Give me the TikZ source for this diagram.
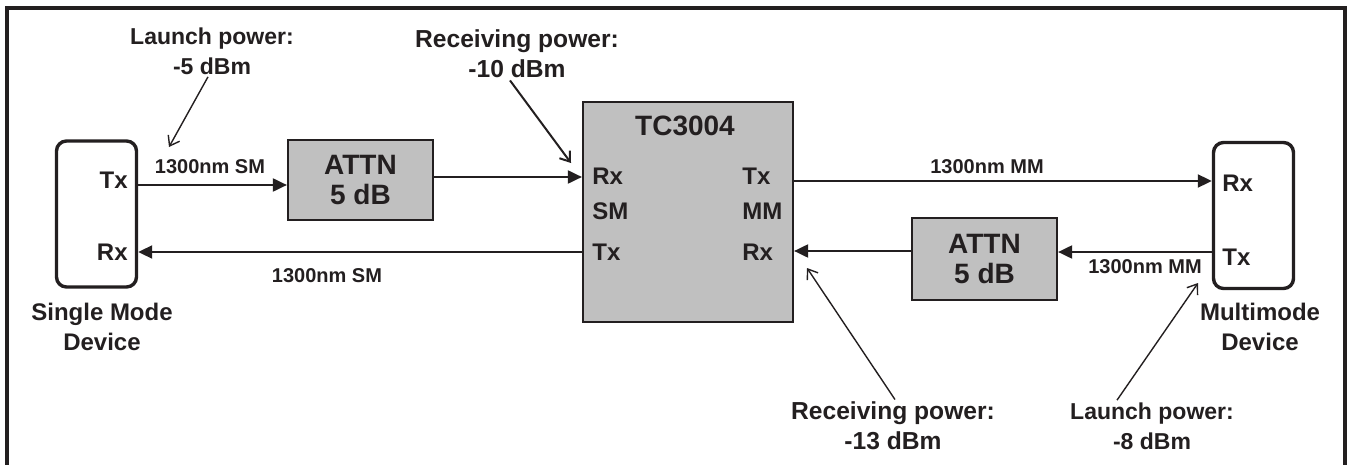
\documentclass[tikz,border=0pt]{standalone}
\usepackage{fontspec}
\setmainfont{Liberation Sans}
\usetikzlibrary{arrows.meta,positioning,calc}
\definecolor{boxgray}{RGB}{192,192,192}
\definecolor{inkblack}{RGB}{35,31,32}

\begin{document}
\begin{tikzpicture}[x=0.5pt, y=-0.5pt, font=\bfseries, draw=inkblack, text=inkblack,
  dev/.style={draw=inkblack, line width=1.7pt, rounded corners=5pt, minimum width=40pt,
              minimum height=73pt},
  attn/.style={draw=inkblack, fill=boxgray, line width=1.1pt, minimum width=72.5pt,
               minimum height=40pt, align=center, font=\bfseries\fontsize{14}{15}\selectfont},
  port/.style={inner sep=0.5pt, font=\bfseries\fontsize{12}{14}\selectfont},
  fib/.style={inner sep=0pt, font=\bfseries\fontsize{10}{12}\selectfont},
  note/.style={align=center, inner sep=1pt, font=\bfseries\fontsize{11.5}{15}\selectfont},
  conn/.style={draw=inkblack, line width=1pt, -{Triangle[length=7pt,width=6.5pt]}},
  ptr/.style={draw=inkblack, line width=0.7pt, -{Straight Barb[length=4.5pt,width=6.5pt]}}]
\useasboundingbox (0,0) rectangle (1348,465);
\draw[line width=2pt, inkblack] (7,465) -- (7,8) -- (1345,8) -- (1345,465);
% devices and attenuators
\node[dev] (smdev) at (96.5,214) {};
\node[dev] (mmdev) at (1253.5,215.5) {};
\node[attn] (attnA) at (360.5,180) {ATTN\\5 dB};
\node[attn, minimum height=41pt] (attnB) at (984.5,259) {ATTN\\5 dB};
\node[draw=inkblack, fill=boxgray, line width=1.1pt, minimum width=105pt, minimum height=110pt]
  (tc) at (688,212) {};
\node[font=\bfseries\fontsize{14}{15}\selectfont] (tcname) at (685,126) {TC3004};
% port labels
\node[port, anchor=east] (smtx) at (129,180) {Tx};
\node[port, anchor=east] (smrx) at (129,252) {Rx};
\node[port, anchor=west] (mmrx) at (1221,183) {Rx};
\node[port, anchor=west] (mmtx) at (1221,257) {Tx};
\foreach \t/\y [count=\i] in {Rx/176,SM/211,Tx/252}
  {\node[port, anchor=west] (tcl\i) at (591,\y) {\t};}
\foreach \t/\y [count=\i] in {Tx/176,MM/211,Rx/252}
  {\node[port, anchor=west] (tcr\i) at (741,\y) {\t};}
% fibres
\draw[conn] (smdev.east |- 0,185) -- (attnA.west |- 0,185);
\draw[conn] (attnA.east |- 0,177) -- (tc.west |- 0,177);
\draw[conn] (tc.west |- 0,252) -- (smdev.east |- 0,252);
\draw[conn] (tc.east |- 0,181) -- (mmdev.west |- 0,181);
\draw[conn] (mmdev.west |- 0,252) -- (attnB.east |- 0,252);
\draw[conn] (attnB.west |- 0,251) -- (tc.east |- 0,251);
\node[fib] (fibA) at (210,167) {1300nm SM};
\node[fib] (fibB) at (327,276) {1300nm SM};
\node[fib] (fibC) at (987,167) {1300nm MM};
\node[fib] (fibD) at (1145,267) {1300nm MM};
% power notes
\node[note] (lpA) at (212,51) {Launch power:\\-5 dBm};
\node[note, font=\bfseries\fontsize{12.3}{15}\selectfont] (rpA) at (517,54) {Receiving power:\\-10 dBm};
\node[note, font=\bfseries\fontsize{12.3}{15}\selectfont] (rpB) at (893,426) {Receiving power:\\-13 dBm};
\node[note] (lpB) at (1152,426) {Launch power:\\-8 dBm};
\coordinate (pA) at (169,147);
\coordinate (pB) at (571,163);
\coordinate (pC) at (807,268);
\coordinate (pD) at (1198,283);
\draw[ptr] (lpA.south -| 208,0) -- (pA);
\draw[ptr, line width=1pt] (rpA.south -| 510,0) -- (pB);
\draw[ptr] (rpB.north -| 895,0) -- (pC);
\draw[ptr] (lpB.north -| 1117,0) -- (pD);
\node[align=center, font=\bfseries\fontsize{12}{15}\selectfont] (smname) at (102,327)
  {Single Mode\\Device};
\node[align=center, font=\bfseries\fontsize{12}{15}\selectfont] (mmname) at (1260,327)
  {Multimode\\Device};
\end{tikzpicture}
\end{document}
